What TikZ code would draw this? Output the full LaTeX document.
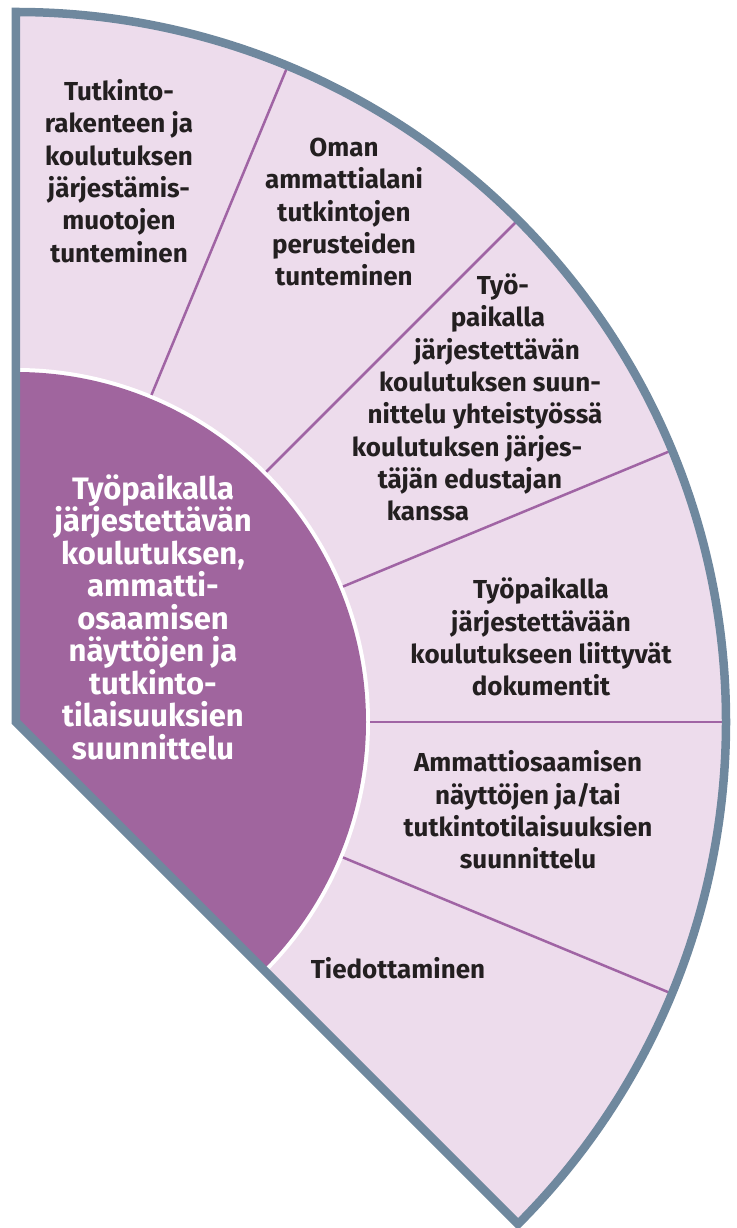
\documentclass[tikz,border=0pt]{standalone}
\usepackage{fontspec}
\setmainfont{Fira Sans}
\usetikzlibrary{positioning}

\definecolor{ringpink}{RGB}{237,220,236}
\definecolor{hubpurple}{RGB}{160,101,158}
\definecolor{linepurple}{RGB}{160,100,164}
\definecolor{framegray}{RGB}{111,136,158}
\definecolor{textblack}{RGB}{35,31,32}

% shift one line of a centred label sideways
\newcommand\nudge[2]{\hbox{\kern#1pt#2\kern-#1pt}}

\begin{document}
\begin{tikzpicture}[x=1pt, y=1pt,
  label text/.style={font=\bfseries\fontsize{26}{32.3}\selectfont, text=textblack, align=center, inner sep=0pt},
  hub text/.style={font=\bfseries\fontsize{31}{32.5}\selectfont, text=white, align=center, inner sep=0pt},
  divider/.style={draw=linepurple, line width=2.5pt}]

\useasboundingbox (-16,-506) rectangle (720,722);
\coordinate (O) at (0,0);

% outer ring and hub
\fill[ringpink] (O) -- (90:710) arc[start angle=90, end angle=-45, radius=710] -- cycle;
\fill[white] (O) -- (90:354) arc[start angle=90, end angle=-45, radius=354] -- cycle;
\fill[hubpurple] (O) -- (90:350) arc[start angle=90, end angle=-45, radius=350] -- cycle;

\draw[divider] (67.5:354) -- (67.5:710);
\draw[divider] (45:354) -- (45:710);
\draw[divider] (22.5:354) -- (22.5:710);
\draw[divider] (0:354) -- (0:710);
\draw[divider] (-22.5:354) -- (-22.5:710);

\draw[framegray, line width=8.5pt, line join=miter]
  (O) -- (90:710) arc[start angle=90, end angle=-45, radius=710] -- cycle;

\node[hub text] (hub) at (137,105) {Työpaikalla\\järjestettävän\\koulutuksen,\\ammatti-\\osaamisen\\näyttöjen ja\\tutkinto-\\tilaisuuksien\\suunnittelu};

\node[label text] (structure) at (103,551) {Tutkinto-\\rakenteen ja\\koulutuksen\\järjestämis-\\muotojen\\tunteminen};
\node[label text] (basics) at (328,510) {Oman\\ammattialani\\tutkintojen\\perusteiden\\tunteminen};
\node[label text] (planning) at (469,324.5) {\nudge{18}{Työ-}\\\nudge{13}{paikalla}\\\nudge{12}{järjestettävän}\\\nudge{5}{koulutuksen suun-}\\\nudge{0}{nittelu yhteistyössä}\\\nudge{-18}{koulutuksen järjes-}\\\nudge{-15}{täjän edustajan}\\\nudge{-57}{kanssa}};
\node[label text] (documents) at (525,85) {Työpaikalla\\järjestettävään\\koulutukseen liittyvät\\dokumentit};
\node[label text] (demos) at (512,-88) {Ammattiosaamisen\\näyttöjen ja/tai\\tutkintotilaisuuksien\\suunnittelu};
\node[label text] (info) at (382,-246) {Tiedottaminen};
\end{tikzpicture}
\end{document}
